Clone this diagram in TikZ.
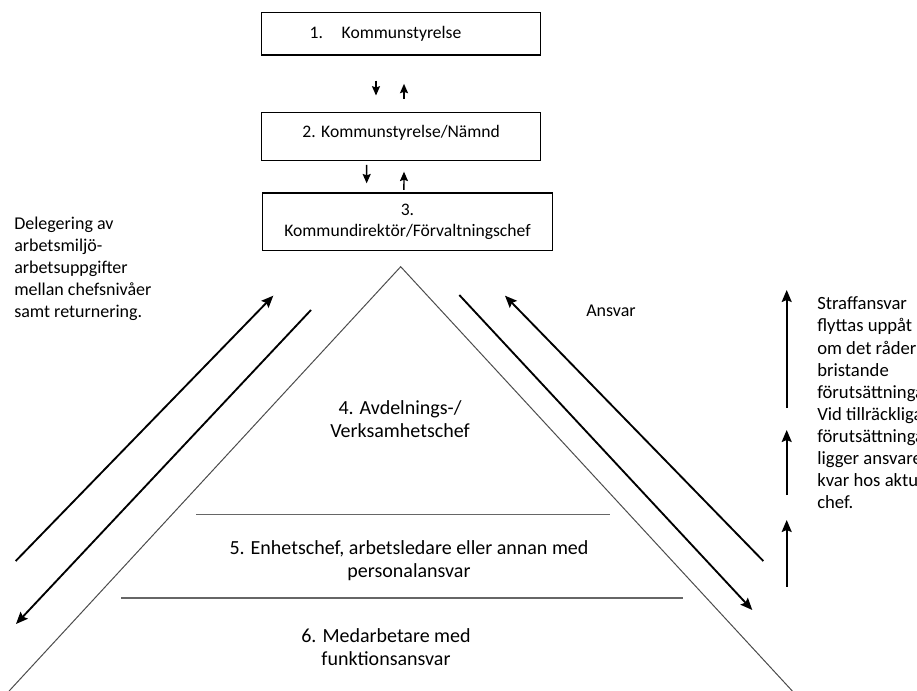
\documentclass[tikz,border=0pt]{standalone}
\usepackage{fontspec}
\setmainfont{Carlito}
\usetikzlibrary{arrows.meta, positioning, calc}

\begin{document}
\begin{tikzpicture}[x=0.75pt, y=-0.75pt, >={Stealth[length=9pt, width=7.5pt, inset=1.5pt]},
    kbox/.style={draw, line width=0.9pt, align=center, inner sep=0pt, font=\fontsize{13.2}{15.8}\selectfont},
    side/.style={draw=black!70, line width=0.75pt},
    level/.style={draw=black!60, line width=1.3pt},
    small arrow/.style={->, line width=1.1pt, >={Stealth[length=7pt, width=6pt, inset=1pt]}},
    big arrow/.style={->, line width=1.4pt},
    lbl/.style={align=center, inner sep=0pt, font=\fontsize{15}{17.6}\selectfont},
    note/.style={align=left, anchor=west, inner sep=0pt, font=\fontsize{13.5}{16.6}\selectfont}]
  \useasboundingbox (0,0) rectangle (917,691);
  \clip (0,0) rectangle (917,691);

  % top three levels
  \node[kbox, minimum width=209.25pt, minimum height=31.7pt] (k1) at (401.2,33.8)
    {1.\hspace{14pt}Kommunstyrelse\hspace*{23.5pt}};
  \node[kbox, minimum width=209.25pt, minimum height=36.2pt, text depth=7.5pt] (k2) [below=42pt of k1]
    {2. Kommunstyrelse/Nämnd};
  \node[kbox, minimum width=217.8pt, minimum height=43.2pt] (k3) [below=23.5pt of k2, xshift=4.7pt]
    {3.\\Kommundirektör/Förvaltningschef};

  \draw[small arrow] ($(k1.south)+(-25.2,25)$) -- ($(k2.north)+(-25.2,-16)$);
  \draw[small arrow] ($(k2.north)+(2.8,-12.7)$) -- ($(k1.south)+(2.8,28.3)$);
  \draw[small arrow] ($(k2.south)+(-34.5,4)$) -- ($(k3.north)+(-40.8,-9)$);
  \draw[small arrow] ($(k3.north)+(-3.5,-2.4)$) -- ($(k2.south)+(2.8,10.7)$);

  % pyramid
  \coordinate (top) at (400.7,266.7);
  \coordinate (bl) at (9.1,691);
  \coordinate (br) at (792.3,691);
  \draw[side] (bl) -- (top) -- (br);
  \draw[level] (196,514.5) -- (610,514.5);
  \draw[level] (121,597.8) -- (683,597.8);

  \node[lbl] (lv4) at (400,419) {4. Avdelnings-/\\Verksamhetschef};
  \node[lbl] (lv5) at (409,560.5) {5. Enhetschef, arbetsledare eller annan med\\personalansvar};
  \node[lbl] (lv6) at (386,647) {6. Medarbetare med\\funktionsansvar};

  % delegering
  \draw[big arrow] (15.7,561) -- (273.3,295.7);
  \draw[big arrow] (311,310) -- (16,624);
  \draw[big arrow] (459.3,295) -- (752.3,610);
  \draw[big arrow] (763.3,561) -- (505,295.7);

  \draw[big arrow] (786.7,408) -- (786.7,290);
  \draw[big arrow] (786.7,495) -- (786.7,430);
  \draw[big arrow] (786.7,586.7) -- (786.7,520);

  \node[note] (deleg) at (14,269) {Delegering av\\arbetsmiljö-\\arbetsuppgifter\\mellan chefsnivåer\\samt returnering.};
  \node[note, anchor=center] (ansvar) at (611,311) {Ansvar};
  \node[note, font=\fontsize{14}{16.6}\selectfont] (straff) at (817,403) {Straffansvar\\flyttas uppåt\\om det råder\\bristande\\förutsättningar.\\Vid tillräckliga\\förutsättningar\\ligger ansvaret\\kvar hos aktuell\\chef.};
\end{tikzpicture}
\end{document}
